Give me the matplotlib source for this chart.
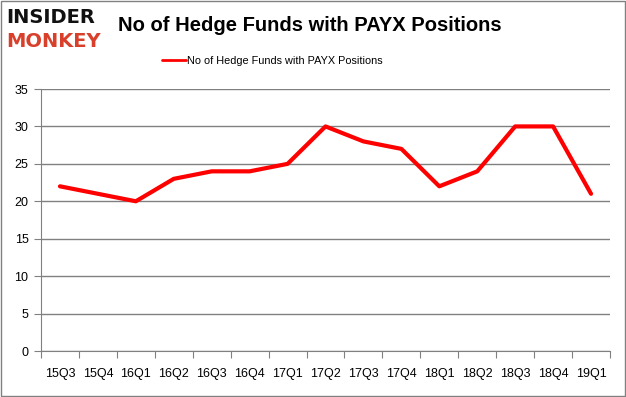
import matplotlib.pyplot as plt
from matplotlib.patches import Rectangle

quarters = ['15Q3', '15Q4', '16Q1', '16Q2', '16Q3', '16Q4', '17Q1', '17Q2',
            '17Q3', '17Q4', '18Q1', '18Q2', '18Q3', '18Q4', '19Q1']
funds = [22, 21, 20, 23, 24, 24, 25, 30, 28, 27, 22, 24, 30, 30, 21]
series_name = 'No of Hedge Funds with PAYX Positions'

plt.rcParams['font.family'] = ['Liberation Sans', 'DejaVu Sans']

fig = plt.figure(figsize=(6.26, 3.97), dpi=100)
ax = fig.add_axes([41 / 626, 46 / 397, 569 / 626, 262 / 397])

x = [i + 0.5 for i in range(len(quarters))]
ax.plot(x, funds, color='#ff0000', linewidth=3, solid_capstyle='round', label=series_name)

ax.set_xlim(0, len(quarters))
ax.set_ylim(0, 35)
ax.set_yticks(range(0, 36, 5))
ax.set_xticks(range(len(quarters) + 1))
ax.set_xticklabels([])
ax.set_xticks(x, minor=True)
ax.set_xticklabels(quarters, minor=True)
ax.tick_params(axis='x', which='major', length=5, color='#808080', direction='out')
ax.tick_params(axis='x', which='minor', length=0, pad=12, labelsize=9)
ax.tick_params(axis='y', length=5, color='#808080', labelsize=9, pad=4)
ax.yaxis.grid(True, color='#808080', linewidth=1)
ax.set_axisbelow(True)
for s in ['top', 'right']:
    ax.spines[s].set_visible(False)
ax.spines['left'].set_color('#808080')
ax.spines['bottom'].set_color('#808080')

leg = ax.legend(loc='upper center', bbox_to_anchor=(0.407, 1.165), frameon=False,
                fontsize=7.8, handlelength=2.2, handletextpad=0.1)
leg.get_lines()[0].set_linewidth(2)

fig.text(0.188, 0.935, series_name, fontsize=14.5, fontweight='bold',
         va='center', ha='left')

# logo
fig.text(0.010, 0.955, 'INSIDER', fontsize=14, fontweight='heavy', color='#111111',
         va='center', ha='left', family='DejaVu Sans')
fig.text(0.010, 0.895, 'MONKEY', fontsize=14, fontweight='heavy', color='#d9402b',
         va='center', ha='left', family='DejaVu Sans')

fig.patches.append(Rectangle((0.001, 0.002), 0.997, 0.995, transform=fig.transFigure,
                             fill=False, edgecolor='#808080', linewidth=1))

fig.savefig('out.png', dpi=100)
